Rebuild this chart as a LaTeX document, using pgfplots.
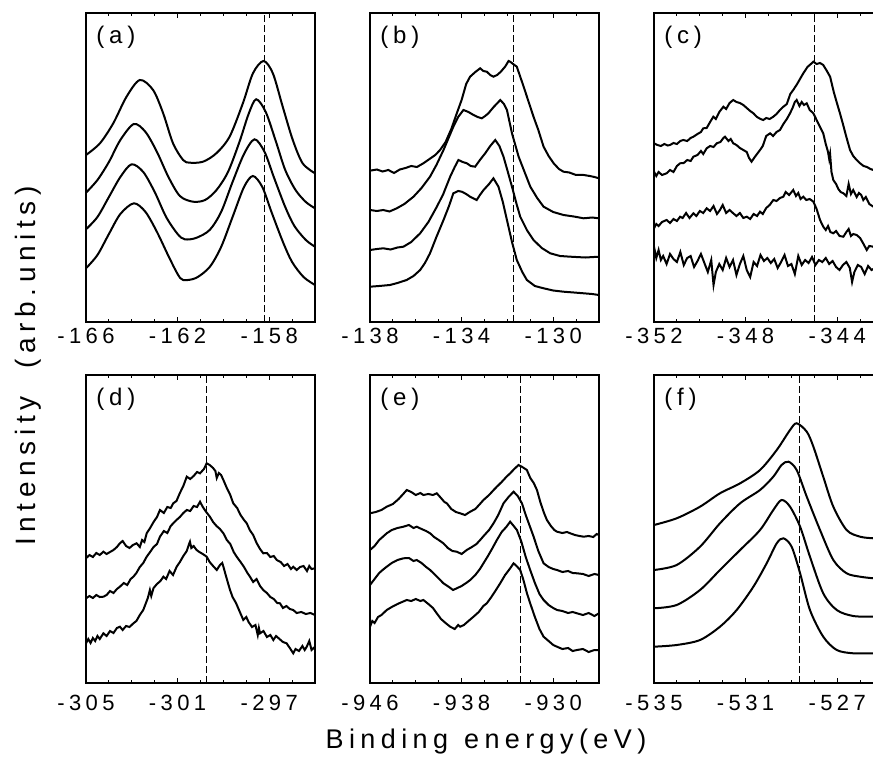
\documentclass[border=0pt]{standalone}
\usepackage{fontspec}
\setmainfont{Liberation Sans}
\newfontfamily\spc[LetterSpace=20]{Liberation Sans}
\usepackage{pgfplots}
\pgfplotsset{compat=1.18}

% one panel = 230 px wide, 309 px tall; 1 px = 0.5pt
\pgfplotsset{
  panel/.style={
    scale only axis, width=114.5pt, height=154.5pt,
    anchor=north west,
    ymin=0, ymax=309,
    ytick=\empty,
    tick align=inside,
    major tick length=2.5pt, minor tick length=1.7pt,
    tick style={black, line width=0.5pt},
    axis line style={line width=0.6pt},
    xticklabel style={font=\spc\fontsize{11}{13}\selectfont, inner sep=0pt, yshift=-3pt},
  },
  lower/.style={ymax=308, height=154pt,
    xticklabel style={yshift=-3pt}},
  spec/.style={black, line width=1pt, mark=none},
  ref/.style={black, line width=0.5pt, dash pattern=on 3.5pt off 1.5pt, mark=none},
}
\newcommand\plab[1]{\node[anchor=west, inner sep=0pt, xshift=5pt, yshift=-12pt,
  font=\spc\fontsize{12}{14}\selectfont] at (rel axis cs:0,1) {#1};}

\begin{document}
\begin{tikzpicture}

% ---------------- (a)
\begin{axis}[panel, at={(43pt,-6.5pt)}, xmin=-166, xmax=-156,
  xtick={-166,-162,-158}, xticklabels={-166,-162,-158},
  minor xtick={-165,-164,-163,-161,-160,-159,-157,-156}]
\addplot[spec, smooth] coordinates {(-166,167) (-165.39,178.7) (-164.81,198.7) (-164.23,225.3) (-163.65,242) (-163.07,232) (-162.63,208.7) (-162.20,178.7) (-161.76,162) (-161.47,159.3) (-160.89,160.3) (-160.31,168.7) (-159.73,185.3) (-159.15,218.7) (-158.71,248.7) (-158.25,261) (-157.84,248.7) (-157.41,215.3) (-156.97,182) (-156.54,158.7) (-156,148.7)};
\addplot[spec, smooth] coordinates {(-166,129.3) (-165.5,142) (-165.0,160) (-164.5,182) (-163.91,198) (-163.4,190) (-162.9,170) (-162.4,145) (-161.9,126) (-161.33,120.3) (-160.8,122) (-160.3,132) (-159.8,150) (-159.3,180) (-158.9,208) (-158.57,222.7) (-158.15,210) (-157.7,180) (-157.3,152) (-156.85,132) (-156.4,120) (-156,113.7)};
\addplot[spec, smooth] coordinates {(-166,92.7) (-165.5,105) (-165.0,125) (-164.5,145) (-164.01,157.7) (-163.5,150) (-163.0,130) (-162.5,105) (-162.0,88) (-161.69,82.7) (-161.2,84) (-160.6,92) (-160.1,110) (-159.6,140) (-159.1,168) (-158.64,182.7) (-158.2,170) (-157.8,145) (-157.3,115) (-156.9,96) (-156.4,82) (-156,75.3)};
\addplot[spec, smooth] coordinates {(-166,53.7) (-165.5,67) (-165.0,88) (-164.5,108) (-163.91,118.7) (-163.4,110) (-162.9,90) (-162.4,66) (-162.0,48) (-161.76,42) (-161.2,44) (-160.6,55) (-160.1,75) (-159.6,105) (-159.1,135) (-158.71,146) (-158.3,135) (-157.9,110) (-157.4,80) (-157.0,60) (-156.5,45) (-156,37)};
\addplot[ref] coordinates {(-158.2,0) (-158.2,309)};
\plab{(a)}
\end{axis}

% ---------------- (b)
\begin{axis}[panel, at={(185pt,-6.5pt)}, xmin=-138, xmax=-128,
  xtick={-138,-134,-130}, xticklabels={-138,-134,-130},
  minor xtick={-137,-136,-135,-133,-132,-131,-129,-128}]
\addplot[spec] coordinates {(-138,151.3) (-137.7,152.5) (-137.45,150.5) (-137.2,152) (-136.95,149) (-136.7,152.5) (-136.45,154) (-136.2,156) (-135.95,155) (-135.67,158.7) (-135.4,163) (-135.15,167) (-134.94,172) (-134.7,180) (-134.45,193) (-134.21,208.7) (-134.0,222) (-133.8,238) (-133.63,245.3) (-133.4,250) (-133.19,253.7) (-133.05,251) (-132.9,250.3) (-132.75,247) (-132.61,245.3) (-132.45,247) (-132.3,250) (-132.1,255.3) (-131.95,261) (-131.88,260.3) (-131.75,258) (-131.59,255.3) (-131.45,246) (-131.29,235.3) (-131.1,222) (-130.86,205.3) (-130.65,192) (-130.42,175.3) (-130.2,166) (-129.98,158.7) (-129.75,153) (-129.55,150.3) (-129.3,149.5) (-129.0,147) (-128.67,147) (-128.4,146) (-128.2,145) (-128,143.7)};
\addplot[spec] coordinates {(-138,112) (-137.7,111) (-137.42,112) (-137.15,110.5) (-136.83,113.7) (-136.5,118) (-136.1,125.3) (-135.75,134) (-135.38,145.3) (-135.1,157) (-134.79,172) (-134.55,185) (-134.36,195.3) (-134.15,205) (-133.92,212) (-133.7,210) (-133.48,207) (-133.3,205) (-133.12,203.7) (-132.97,206) (-132.83,208.7) (-132.6,215) (-132.31,222) (-132.15,218) (-132.02,212) (-131.8,188.7) (-131.51,165.3) (-131.25,150) (-131.0,135.3) (-130.7,124) (-130.42,115.3) (-130.0,110) (-129.55,107) (-129.1,105.5) (-128.67,103.7) (-128.3,104.5) (-128,103.7)};
\addplot[spec] coordinates {(-138,72) (-137.7,73) (-137.42,73.7) (-137.1,72.5) (-136.8,74.5) (-136.54,75.3) (-136.2,80) (-135.81,88.7) (-135.45,100) (-135.08,115.3) (-134.8,128) (-134.5,145.3) (-134.3,155) (-134.14,162) (-133.95,160) (-133.77,158.7) (-133.6,156) (-133.41,155.3) (-133.2,162) (-132.97,168.7) (-132.75,176) (-132.53,182) (-132.35,176) (-132.17,165.3) (-131.98,150) (-131.8,135.3) (-131.6,118) (-131.44,105.3) (-131.15,92) (-130.86,82) (-130.5,74) (-130.13,68.7) (-129.7,66) (-129.25,65.3) (-128.6,64.5) (-128,65.3)};
\addplot[spec] coordinates {(-138,35.3) (-137.6,36) (-137.13,37) (-136.8,39) (-136.4,42) (-136.1,46) (-135.81,52) (-135.6,59) (-135.38,68.7) (-135.1,85) (-134.79,102) (-134.55,116) (-134.36,128.7) (-134.15,131) (-133.99,130.3) (-133.8,128) (-133.63,125.3) (-133.34,122) (-133.2,127) (-133.04,132) (-132.8,138) (-132.61,143.7) (-132.39,135.3) (-132.2,120) (-132.02,102) (-131.8,80) (-131.59,62) (-131.35,50) (-131.15,42) (-130.8,36) (-130.42,33.7) (-130.0,31.5) (-129.55,30.3) (-129.1,29.5) (-128.67,28.7) (-128.3,28) (-128,27)};
\addplot[ref] coordinates {(-131.73,0) (-131.73,309)};
\plab{(b)}
\end{axis}

% ---------------- (c)
\begin{axis}[panel, at={(327pt,-6.5pt)}, xmin=-352, xmax=-342,
  xtick={-352,-348,-344}, xticklabels={-352,-348,-344},
  minor xtick={-351,-350,-349,-347,-346,-345,-343,-342}]
\addplot[spec] coordinates {(-352,178.7) (-351.85,177) (-351.7,176) (-351.55,178) (-351.4,176.5) (-351.30,177) (-351.15,179) (-351.0,178) (-350.85,181) (-350.72,182) (-350.55,181) (-350.4,184) (-350.28,185.3) (-350.1,188) (-349.95,190) (-349.85,193.7) (-349.7,194) (-349.55,200) (-349.41,205.3) (-349.3,203) (-349.15,210) (-348.97,215.3) (-348.85,213) (-348.7,219) (-348.54,222) (-348.4,220) (-348.25,219) (-348.10,217) (-347.95,214) (-347.8,211) (-347.66,208.7) (-347.5,205) (-347.35,203) (-347.23,202) (-347.1,204) (-346.95,203) (-346.79,205.3) (-346.65,208) (-346.5,212) (-346.35,215.3) (-346.2,218) (-346.05,228) (-345.92,232) (-345.75,238) (-345.6,244) (-345.48,248.7) (-345.3,255) (-345.15,258) (-345.04,260.3) (-344.9,258) (-344.75,259) (-344.61,257) (-344.45,251) (-344.31,245.3) (-344.15,230) (-344.0,218) (-343.88,208.7) (-343.75,198) (-343.6,185) (-343.44,172) (-343.3,166) (-343.15,162) (-343.00,158.7) (-342.85,156) (-342.7,155) (-342.55,153) (-342.42,152) (-342.2,151) (-342,150)};
\addplot[spec] coordinates {(-352,150.3) (-351.9,146) (-351.8,150) (-351.65,147) (-351.45,148.7) (-351.3,152) (-351.15,150) (-351.0,156) (-350.86,158.7) (-350.7,159) (-350.55,162) (-350.4,161) (-350.28,165.3) (-350.1,167) (-349.95,171) (-349.85,168) (-349.70,173.7) (-349.55,176) (-349.4,175) (-349.26,178.7) (-349.1,180) (-348.97,184) (-348.90,185.3) (-348.75,181) (-348.65,183) (-348.54,178.7) (-348.4,177) (-348.25,174) (-348.10,172) (-347.95,170) (-347.85,164) (-347.74,160.3) (-347.6,165) (-347.5,168) (-347.37,172) (-347.25,176) (-347.1,186) (-346.93,188.7) (-346.8,186) (-346.65,190) (-346.50,192) (-346.35,198) (-346.2,203) (-346.06,208.7) (-345.95,214) (-345.85,220) (-345.77,222) (-345.65,216) (-345.55,220) (-345.45,217) (-345.33,218.7) (-345.2,212) (-345.04,208.7) (-344.9,202) (-344.75,195) (-344.61,188.7) (-344.5,178) (-344.4,170) (-344.35,163) (-344.31,168) (-344.25,150) (-344.17,142) (-344.05,138) (-343.95,133) (-343.85,130) (-343.73,128.7) (-343.6,126) (-343.5,138) (-343.4,128) (-343.30,132) (-343.15,125) (-343.05,129) (-342.95,127) (-342.86,122) (-342.75,125) (-342.6,118) (-342.42,115.3) (-342.25,117) (-342,114)};
\addplot[spec] coordinates {(-352,93.7) (-351.9,98) (-351.8,96) (-351.65,100) (-351.45,102) (-351.3,99) (-351.15,103) (-351.0,101) (-350.86,105.3) (-350.75,104) (-350.6,109) (-350.45,104) (-350.28,108.7) (-350.15,106) (-350.0,111) (-349.85,109) (-349.70,113.7) (-349.55,111) (-349.4,116) (-349.25,108) (-349.12,112) (-349.0,117) (-348.85,109) (-348.7,112) (-348.54,108.7) (-348.4,106) (-348.25,109) (-348.1,104) (-347.95,105.3) (-347.8,103) (-347.65,108) (-347.5,106) (-347.37,110.3) (-347.25,108) (-347.1,114) (-346.95,117) (-346.79,122) (-346.65,121) (-346.5,124) (-346.35,125.3) (-346.25,130) (-346.1,127) (-345.92,132) (-345.8,126) (-345.7,129) (-345.6,123) (-345.48,125.3) (-345.35,122) (-345.2,123) (-345.04,120.3) (-344.9,113) (-344.75,102) (-344.61,95.3) (-344.5,92) (-344.4,96) (-344.3,90) (-344.17,88.7) (-344.05,91) (-343.9,86) (-343.73,85.3) (-343.6,90) (-343.5,93) (-343.4,86) (-343.3,88) (-343.15,87) (-343.0,84) (-342.85,78) (-342.71,72) (-342.6,76) (-342.42,75.3) (-342.25,70) (-342,73)};
\addplot[spec] coordinates {(-352,75.3) (-351.9,64) (-351.8,72) (-351.7,62) (-351.6,66) (-351.45,58) (-351.3,68) (-351.15,63) (-351.0,60) (-350.85,70) (-350.7,57) (-350.55,64) (-350.4,66) (-350.25,55) (-350.1,61) (-349.95,68) (-349.8,59) (-349.65,50) (-349.5,62) (-349.4,37) (-349.3,50) (-349.15,58) (-349.0,52) (-348.85,64) (-348.7,55) (-348.55,62) (-348.4,47) (-348.25,58) (-348.1,66) (-347.95,52) (-347.8,45) (-347.65,60) (-347.5,56) (-347.35,67) (-347.2,61) (-347.05,64) (-346.9,59) (-346.75,63) (-346.6,54) (-346.45,60) (-346.3,67) (-346.15,56) (-346.0,58) (-345.85,48) (-345.7,66) (-345.55,57) (-345.4,62) (-345.25,59) (-345.1,65) (-344.95,57) (-344.8,62) (-344.65,60) (-344.5,64) (-344.35,58) (-344.2,61) (-344.05,55) (-343.9,52) (-343.75,57) (-343.6,60) (-343.45,54) (-343.35,40) (-343.25,50) (-343.1,57) (-342.95,55) (-342.8,48) (-342.65,56) (-342.5,52) (-342.35,54) (-342.2,50) (-342,52)};
\addplot[ref] coordinates {(-345.0,0) (-345.0,309)};
\plab{(c)}
\end{axis}

% ---------------- (d)
\begin{axis}[panel, lower, at={(43pt,-187.5pt)}, xmin=-305, xmax=-295,
  xtick={-305,-301,-297}, xticklabels={-305,-301,-297},
  minor xtick={-304,-303,-302,-300,-299,-298,-296,-295}]
\addplot[spec] coordinates {(-305,124.7) (-304.85,128) (-304.7,126) (-304.55,130) (-304.4,128) (-304.24,131.3) (-304.1,129) (-303.95,131) (-303.8,133) (-303.65,136) (-303.52,139.7) (-303.4,142) (-303.25,137) (-303.1,135) (-302.95,138) (-302.79,139.7) (-302.65,136) (-302.55,143) (-302.45,141) (-302.35,149.7) (-302.2,155) (-302.05,161) (-301.9,166) (-301.77,173) (-301.6,170) (-301.45,176) (-301.3,175) (-301.19,179.7) (-301.05,182) (-300.9,190) (-300.75,197) (-300.6,206.3) (-300.45,204) (-300.3,207) (-300.15,211) (-300.02,209.7) (-299.85,214) (-299.73,219.7) (-299.6,218) (-299.45,215) (-299.35,212) (-299.29,205) (-299.2,210) (-299.1,208) (-299.0,203) (-298.85,195) (-298.7,188) (-298.57,179.7) (-298.4,175) (-298.25,168) (-298.1,163) (-297.98,159.7) (-297.85,153) (-297.7,148) (-297.55,140) (-297.4,134) (-297.26,129.7) (-297.1,130) (-296.95,126) (-296.8,127) (-296.67,123) (-296.5,121) (-296.35,117) (-296.2,119) (-296.05,114) (-295.95,116.3) (-295.8,113) (-295.65,116) (-295.5,117) (-295.35,112) (-295.25,117) (-295.15,114) (-295,114.7)};
\addplot[spec] coordinates {(-305,84.7) (-304.85,87) (-304.7,85) (-304.55,88) (-304.4,86) (-304.24,86.3) (-304.1,88) (-303.95,92) (-303.8,90) (-303.65,94) (-303.52,96.3) (-303.35,100) (-303.2,98) (-303.05,104) (-302.93,106.3) (-302.8,110) (-302.65,116) (-302.5,120) (-302.35,126.3) (-302.2,131) (-302.05,136) (-301.9,139) (-301.77,146.3) (-301.6,152) (-301.45,150) (-301.3,157) (-301.19,159.7) (-301.05,163) (-300.9,166) (-300.75,170) (-300.6,173) (-300.45,172) (-300.3,177) (-300.15,176) (-300.02,181.3) (-299.9,176) (-299.75,171) (-299.59,166.3) (-299.45,161) (-299.3,157) (-299.15,154) (-299.0,149.7) (-298.85,143) (-298.7,139) (-298.55,131) (-298.42,126.3) (-298.25,121) (-298.1,116) (-297.95,110) (-297.84,106.3) (-297.7,101) (-297.55,104) (-297.4,97) (-297.26,93) (-297.1,90) (-296.95,86) (-296.8,84) (-296.65,80) (-296.53,79.7) (-296.4,75) (-296.25,77) (-296.1,74) (-295.95,73) (-295.8,70) (-295.6,71) (-295.4,69) (-295.2,70) (-295,68)};
\addplot[spec] coordinates {(-305,39.7) (-304.9,44) (-304.8,40) (-304.7,45) (-304.6,42) (-304.5,47) (-304.4,44) (-304.24,49.7) (-304.1,47) (-303.95,52) (-303.8,50) (-303.65,55) (-303.52,56.3) (-303.4,53) (-303.25,57) (-303.1,56) (-302.93,59.7) (-302.8,62) (-302.65,68) (-302.5,73) (-302.4,79) (-302.3,85) (-302.21,93) (-302.15,87) (-302.05,95) (-301.9,99) (-301.75,102) (-301.62,106.3) (-301.5,104) (-301.35,112) (-301.2,108) (-301.04,116.3) (-300.9,121) (-300.75,127) (-300.6,132) (-300.5,139) (-300.46,141.3) (-300.4,135) (-300.3,137) (-300.17,133) (-300.05,131) (-299.9,129) (-299.73,126.3) (-299.6,121) (-299.45,117) (-299.29,113) (-299.15,118) (-299.05,120) (-299.0,116.3) (-298.9,108) (-298.8,100) (-298.71,93) (-298.6,86) (-298.45,80) (-298.3,72) (-298.13,63) (-298.0,66) (-297.9,61) (-297.75,56) (-297.6,58) (-297.5,48) (-297.45,55) (-297.4,49.7) (-297.25,52) (-297.1,46) (-296.95,48) (-296.82,43) (-296.7,47) (-296.55,44) (-296.4,41) (-296.24,39.7) (-296.1,35) (-295.95,29.7) (-295.85,34) (-295.7,32) (-295.55,37) (-295.45,33) (-295.36,36.3) (-295.25,42) (-295.15,33) (-295,36.3)};
\addplot[ref] coordinates {(-299.75,0) (-299.75,308)};
\plab{(d)}
\end{axis}

% ---------------- (e)
\begin{axis}[panel, lower, at={(185pt,-187.5pt)}, xmin=-946, xmax=-926,
  xtick={-946,-938,-930}, xticklabels={-946,-938,-930},
  minor xtick={-944,-942,-940,-936,-934,-932,-928,-926}]
\addplot[spec] coordinates {(-946,169.7) (-945.5,171) (-945,173) (-944.54,176.3) (-944,179) (-943.5,184) (-943.1,189) (-942.79,193) (-942.4,191) (-942,188) (-941.6,190) (-941.34,188) (-940.9,189) (-940.5,188) (-940.17,189.7) (-939.8,185) (-939.5,181) (-939.29,179.7) (-938.9,174) (-938.5,171) (-938.13,169.7) (-937.7,168) (-937.25,171.3) (-936.8,174) (-936.4,179) (-936.09,183) (-935.6,188) (-935.2,193) (-934.92,196.3) (-934.5,201) (-934.1,206) (-933.76,209.7) (-933.4,214) (-933.03,218) (-932.7,216) (-932.30,213) (-932.0,205) (-931.7,200) (-931.42,193) (-931.1,180) (-930.8,170) (-930.55,163) (-930.2,157) (-929.9,153) (-929.67,151.3) (-929.2,150) (-928.8,151) (-928.51,149.7) (-928.1,148) (-927.7,147) (-927.34,146.3) (-926.9,147) (-926.5,146) (-926.2,149) (-926,148)};
\addplot[spec] coordinates {(-946,133) (-945.6,137) (-945.2,143) (-944.9,146) (-944.54,149.7) (-944.1,153) (-943.6,155) (-943.08,156.3) (-942.6,158) (-942.2,155) (-941.92,156.3) (-941.5,154) (-941.1,152) (-940.75,149.7) (-940.4,146) (-940.0,143) (-939.59,139.7) (-939.2,135) (-938.8,132) (-938.42,131.3) (-938.0,129) (-937.55,133) (-937.1,136) (-936.7,139) (-936.38,143) (-936.0,148) (-935.6,153) (-935.21,159.7) (-934.8,168) (-934.34,179.7) (-933.9,186) (-933.46,191.3) (-933.1,187) (-932.73,179.7) (-932.4,168) (-932.05,157) (-931.71,146.3) (-931.3,132) (-930.84,119.7) (-930.4,116) (-930.0,114) (-929.67,113) (-929.2,111) (-928.7,112) (-928.3,110) (-927.92,109.7) (-927.4,109) (-926.9,107) (-926.4,109) (-926,108)};
\addplot[spec] coordinates {(-946,98) (-945.6,104) (-945.2,110) (-944.9,113) (-944.54,116.3) (-944.1,120) (-943.6,123) (-943.08,124.7) (-942.6,125) (-942.2,122) (-941.92,123) (-941.5,120) (-941.1,116) (-940.75,113) (-940.3,108) (-939.95,104) (-939.59,99.7) (-939.1,96) (-938.75,93) (-938.42,94.7) (-938.0,97) (-937.6,100) (-937.25,103) (-936.8,108) (-936.4,114) (-936.09,119.7) (-935.7,127) (-935.3,135) (-934.92,143) (-934.5,151) (-934.1,156) (-933.76,161.3) (-933.45,157) (-933.17,153) (-932.8,142) (-932.4,126) (-932.01,113) (-931.6,100) (-931.2,89) (-930.84,83) (-930.4,78) (-930.0,75) (-929.67,73) (-929.2,72) (-928.7,70) (-928.3,71) (-927.92,69.7) (-927.4,68) (-926.9,70) (-926.4,67) (-926,69.7)};
\addplot[spec] coordinates {(-946,56.3) (-945.8,62) (-945.6,60) (-945.3,66) (-945.0,68) (-944.54,73) (-944.1,76) (-943.6,79) (-943.2,81) (-942.79,83) (-942.4,82) (-942.0,84) (-941.6,82) (-941.34,83) (-940.9,79) (-940.5,75) (-940.17,69.7) (-939.8,64) (-939.4,60) (-939.0,56.3) (-938.6,54) (-938.3,58) (-938.13,56.3) (-937.8,58) (-937.4,62) (-936.96,66.3) (-936.5,71) (-936.1,77) (-935.80,79.7) (-935.4,86) (-935.0,93) (-934.63,99.7) (-934.2,108) (-933.8,114) (-933.46,119.7) (-933.2,117) (-932.88,113) (-932.6,103) (-932.3,90) (-932.01,79.7) (-931.6,66) (-931.2,54) (-930.84,46.3) (-930.4,42) (-930.0,38) (-929.67,36.3) (-929.2,34) (-928.7,35) (-928.3,32) (-927.92,33) (-927.4,34) (-926.9,31) (-926.4,33) (-926,33)};
\addplot[ref] coordinates {(-932.88,0) (-932.88,308)};
\plab{(e)}
\end{axis}

% ---------------- (f)
\begin{axis}[panel, lower, at={(327pt,-187.5pt)}, xmin=-535, xmax=-525,
  xtick={-535,-531,-527}, xticklabels={-535,-531,-527},
  minor xtick={-534,-533,-532,-530,-529,-528,-526,-525}]
\addplot[spec, smooth] coordinates {(-535,158) (-534.01,164.7) (-532.99,176.3) (-532.12,189.7) (-531.24,199.7) (-530.37,213) (-529.64,233) (-529.06,253) (-528.77,259.7) (-528.33,251.3) (-528.04,236.3) (-527.61,206.3) (-527.17,176.3) (-526.59,153) (-526.00,146.3) (-525.42,144.7) (-525,144)};
\addplot[spec, smooth] coordinates {(-535,113) (-534.01,118) (-532.99,136.3) (-532.12,159.7) (-531.24,179.7) (-530.37,193) (-529.79,206.3) (-529.43,218) (-529.13,221.3) (-528.77,213) (-528.33,186.3) (-527.75,153) (-527.17,123) (-526.59,109.7) (-526.00,106.3) (-525.42,104.7) (-525,104)};
\addplot[spec, smooth] coordinates {(-535,74.7) (-534.01,78) (-532.99,93) (-532.12,113) (-531.24,133) (-530.37,153) (-529.79,173) (-529.43,183) (-529.06,176.3) (-528.62,156.3) (-528.19,126.3) (-527.61,89.7) (-527.02,73) (-526.30,67) (-525.42,66.3) (-525,66)};
\addplot[spec, smooth] coordinates {(-535,36.3) (-534.01,38) (-532.99,43) (-532.12,56.3) (-531.39,73) (-530.66,96.3) (-530.08,119.7) (-529.64,139.7) (-529.35,144.7) (-528.99,136.3) (-528.62,109.7) (-528.19,73) (-527.61,46.3) (-527.02,33) (-526.30,29.7) (-525.42,29.7) (-525,29.5)};
\addplot[ref] coordinates {(-528.65,0) (-528.65,308)};
\plab{(f)}
\end{axis}

% axis titles
\node[rotate=90, inner sep=0pt, font=\spc\fontsize{14}{16}\selectfont] at (14pt,-183pt) {Intensity\hspace{14pt}(arb.units)};
\node[anchor=base, inner sep=0pt, font=\spc\fontsize{13.5}{16}\selectfont] at (243pt,-374pt) {Binding\hspace{8pt}energy(eV)};

% page = the reference's 873 x 759 px frame
\pgfresetboundingbox
\path[use as bounding box] (0pt,0pt) rectangle (436.5pt,-379.5pt);
\end{tikzpicture}
\end{document}
